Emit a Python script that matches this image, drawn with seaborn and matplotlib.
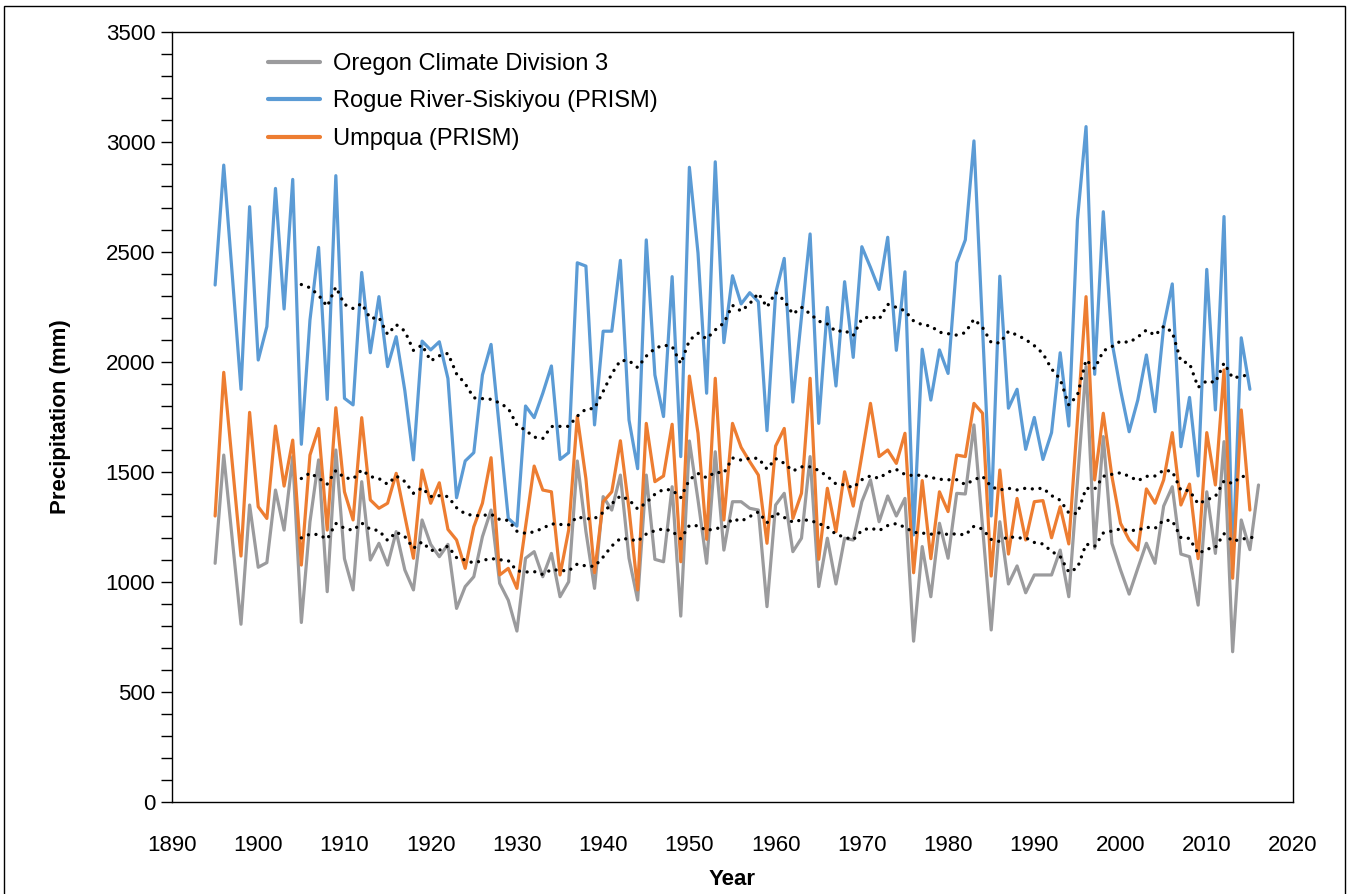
import numpy as np
import pandas as pd
import matplotlib
matplotlib.use("Agg")
import matplotlib.pyplot as plt
from matplotlib.patches import Rectangle
from matplotlib.ticker import MultipleLocator
import seaborn as sns

# Annual precipitation (mm), water years 1895-2016
years = list(range(1895, 2017))

oregon_div3 = [
    1085, 1577, 1190, 808, 1350, 1067, 1088, 1418, 1236, 1570,
    816, 1274, 1555, 956, 1600, 1106, 964, 1456, 1100, 1176,
    1077, 1229, 1055, 964, 1282, 1171, 1115, 1171, 880, 979,
    1024, 1206, 1327, 994, 917, 777, 1108, 1138, 1024, 1130,
    933, 1001, 1550, 1230, 971, 1388, 1327, 1486, 1108, 918,
    1486, 1103, 1092, 1433, 845, 1641, 1373, 1085, 1592, 1145,
    1365, 1365, 1335, 1327, 888, 1350, 1403, 1138, 1199, 1570,
    979, 1199, 991, 1199, 1191, 1365, 1464, 1274, 1391, 1300,
    1380, 731, 1161, 933, 1267, 1108, 1403, 1400, 1714, 1250,
    782, 1274, 991, 1073, 951, 1032, 1032, 1032, 1145, 933,
    1456, 1979, 1153, 1661, 1176, 1055, 945, 1062, 1176, 1085,
    1345, 1433, 1127, 1115, 895, 1410, 1130, 1638, 683, 1282,
    1147, 1441,
]

rogue_siskiyou = [
    2350, 2895, 2390, 1876, 2706, 2009, 2161, 2789, 2241, 2830,
    1626, 2191, 2521, 1830, 2847, 1835, 1805, 2407, 2042, 2297,
    1979, 2115, 1870, 1555, 2095, 2055, 2092, 1925, 1383, 1550,
    1588, 1941, 2080, 1686, 1289, 1254, 1800, 1747, 1858, 1982,
    1557, 1588, 2451, 2436, 1714, 2140, 2140, 2462, 1736, 1515,
    2555, 1941, 1752, 2388, 1570, 2885, 2495, 1858, 2910, 2088,
    2392, 2264, 2315, 2274, 1688, 2312, 2471, 1818, 2205, 2582,
    1721, 2248, 1891, 2365, 2021, 2524, 2430, 2330, 2567, 2053,
    2410, 1214, 2058, 1827, 2055, 1948, 2451, 2555, 3005, 2150,
    1300, 2390, 1790, 1876, 1603, 1748, 1557, 1679, 2042, 1709,
    2645, 3070, 1944, 2683, 2092, 1873, 1683, 1827, 2032, 1774,
    2161, 2355, 1615, 1839, 1482, 2421, 1782, 2661, 1080, 2110,
    1876, np.nan,
]

umpqua = [
    1300, 1953, 1535, 1118, 1771, 1342, 1289, 1709, 1436, 1645,
    1077, 1577, 1698, 1236, 1792, 1410, 1282, 1747, 1373, 1335,
    1358, 1494, 1300, 1108, 1509, 1358, 1451, 1239, 1191, 1062,
    1251, 1358, 1565, 1032, 1062, 971, 1251, 1527, 1418, 1410,
    1032, 1236, 1752, 1470, 1042, 1365, 1410, 1642, 1330, 964,
    1721, 1456, 1482, 1717, 1092, 1936, 1676, 1194, 1926, 1282,
    1721, 1612, 1547, 1486, 1176, 1618, 1698, 1289, 1403, 1926,
    1103, 1426, 1229, 1501, 1345, 1576, 1812, 1570, 1600, 1539,
    1676, 1042, 1461, 1106, 1410, 1320, 1577, 1570, 1812, 1767,
    1027, 1509, 1127, 1380, 1191, 1365, 1370, 1201, 1342, 1173,
    1735, 2297, 1464, 1767, 1480, 1267, 1191, 1145, 1423, 1358,
    1464, 1679, 1350, 1445, 1106, 1679, 1441, 1964, 1017, 1782,
    1327, np.nan,
]

series_names = [
    "Oregon Climate Division 3",
    "Rogue River-Siskiyou (PRISM)",
    "Umpqua (PRISM)",
]
series_colors = ["#9b9b9d", "#5b9bd5", "#ed7d31"]
ma_window = 11

x_ticks = list(range(1890, 2021, 10))
y_ticks = list(range(0, 3501, 500))

df = pd.DataFrame({
    "Year": years,
    series_names[0]: oregon_div3,
    series_names[1]: rogue_siskiyou,
    series_names[2]: umpqua,
})
long_df = df.melt(id_vars="Year", var_name="Series", value_name="Precipitation")

sns.set_style("white")
plt.rcParams["font.family"] = ["Liberation Sans", "DejaVu Sans"]
plt.rcParams["text.color"] = "black"
plt.rcParams["axes.labelcolor"] = "black"
plt.rcParams["xtick.color"] = "black"
plt.rcParams["ytick.color"] = "black"

fig = plt.figure(figsize=(13.5, 8.94), dpi=100)
W, H = 1350, 894
ax = fig.add_axes([172 / W, 1 - 802 / H, (1293 - 172) / W, (802 - 32) / H])

# Annual series
sns.lineplot(
    data=long_df, x="Year", y="Precipitation", hue="Series",
    hue_order=series_names, palette=series_colors,
    linewidth=2.3, ax=ax, estimator=None,
)

# Trailing moving averages as round-dot lines
for name in series_names:
    ma = df[name].rolling(ma_window).mean()
    sns.lineplot(
        x=df["Year"], y=ma, color="black", linewidth=2.4,
        linestyle=(0, (0.01, 2.3)), dash_capstyle="round",
        legend=False, ax=ax,
    )

ax.set_xlim(x_ticks[0], x_ticks[-1])
ax.set_ylim(y_ticks[0], y_ticks[-1])
ax.set_xticks(x_ticks)
ax.set_yticks(y_ticks)
ax.yaxis.set_minor_locator(MultipleLocator(100))

ax.tick_params(axis="y", which="both", direction="out", length=8, width=1,
               color="black", left=True, labelsize=16, pad=4,
               labelcolor="black")
ax.tick_params(axis="x", which="both", length=0, labelsize=16, pad=24,
               labelcolor="black")

for side in ["left", "right", "top", "bottom"]:
    ax.spines[side].set_visible(True)
    ax.spines[side].set_color("black")
    ax.spines[side].set_linewidth(1.0)

ax.set_xlabel("Year", fontsize=16, fontweight="bold", labelpad=9,
              color="black")
ax.set_ylabel("Precipitation (mm)", fontsize=16, fontweight="bold",
              labelpad=25, color="black")

handles, labels = ax.get_legend_handles_labels()
leg = ax.legend(
    handles[:3], series_names, loc="upper left",
    bbox_to_anchor=(0.086, 0.973), frameon=False, fontsize=17,
    borderaxespad=0, borderpad=0, handlelength=2.2, handletextpad=0.55,
    labelspacing=0.66,
)
for h in leg.get_lines():
    h.set_linewidth(3.0)
for t in leg.get_texts():
    t.set_color("black")

# Frame around the whole chart
fig.add_artist(Rectangle((4 / W, -0.02), (1345 - 4) / W, 1.02 - 6 / H,
                         transform=fig.transFigure, fill=False,
                         edgecolor="black", linewidth=1.0, clip_on=False))

fig.savefig("out.png", dpi=100)
